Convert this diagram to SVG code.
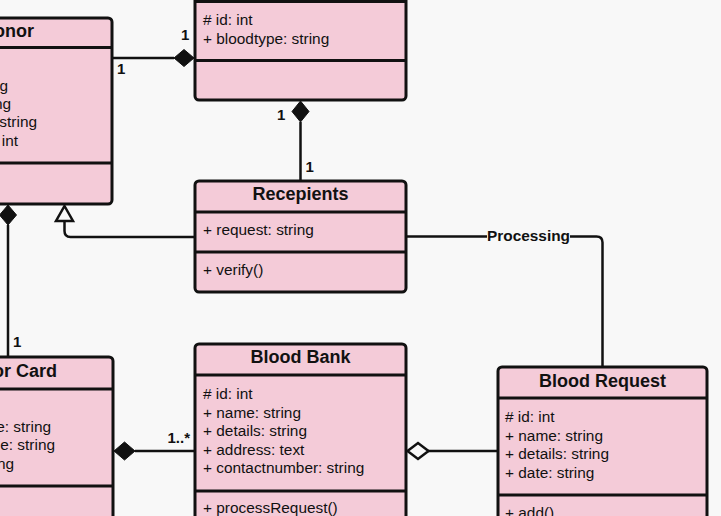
<svg xmlns="http://www.w3.org/2000/svg" width="721" height="516" viewBox="0 0 721 516">
<style>
.box{fill:#f4cbd8;stroke:#111;stroke-width:3}
.dv{stroke:#111;stroke-width:3}
.t{font-family:"Liberation Sans",Arial,sans-serif;font-size:18px;font-weight:bold;fill:#111;text-anchor:middle}
.te{font-family:"Liberation Sans",Arial,sans-serif;font-size:18px;font-weight:bold;fill:#111;text-anchor:end}
.a{font-family:"Liberation Sans",Arial,sans-serif;font-size:15.4px;fill:#111}
.ae{font-family:"Liberation Sans",Arial,sans-serif;font-size:15.4px;fill:#111;text-anchor:end}
.m{font-family:"Liberation Sans",Arial,sans-serif;font-size:15px;font-weight:bold;fill:#111}
.c{fill:none;stroke:#111;stroke-width:2.5}
.fd{fill:#111;stroke:#111;stroke-width:1}
.hd{fill:#f8f8f8;stroke:#111;stroke-width:2.5}
</style>
<rect x="0" y="0" width="721" height="516" fill="#f8f8f8"/>

<g id="donor">
<rect class="box" x="-99" y="18" width="211" height="186" rx="4"/>
<line class="dv" x1="-99" y1="47.5" x2="112" y2="47.5"/>
<line class="dv" x1="-99" y1="163" x2="112" y2="163"/>
<text class="te" x="34" y="37">onor</text>
<text class="ae" x="8" y="90.5">g</text>
<text class="ae" x="11" y="109">ng</text>
<text class="ae" x="37" y="127">string</text>
<text class="ae" x="18" y="145.5">int</text>
</g>

<g id="blood">
<rect class="box" x="195" y="-40" width="211" height="140" rx="4"/>
<line class="dv" x1="195" y1="1.5" x2="406" y2="1.5"/>
<line class="dv" x1="195" y1="60.5" x2="406" y2="60.5"/>
<text class="a" x="203" y="25"># id: int</text>
<text class="a" x="203" y="43.5">+ bloodtype: string</text>
</g>

<g id="recepients">
<rect class="box" x="195" y="181" width="211" height="111" rx="4"/>
<line class="dv" x1="195" y1="212" x2="406" y2="212"/>
<line class="dv" x1="195" y1="252" x2="406" y2="252"/>
<text class="t" x="300.5" y="200">Recepients</text>
<text class="a" x="203" y="235">+ request: string</text>
<text class="a" x="203" y="275">+ verify()</text>
</g>

<g id="donor-card">
<rect class="box" x="-98" y="357" width="211" height="200" rx="4"/>
<line class="dv" x1="-98" y1="389" x2="113" y2="389"/>
<line class="dv" x1="-98" y1="486" x2="113" y2="486"/>
<text class="te" x="57" y="377">or Card</text>
<text class="ae" x="51" y="431.5">e: string</text>
<text class="ae" x="55" y="450">e: string</text>
<text class="ae" x="14" y="468.5">ng</text>
</g>

<g id="blood-bank">
<rect class="box" x="195" y="344" width="211" height="200" rx="4"/>
<line class="dv" x1="195" y1="375" x2="406" y2="375"/>
<line class="dv" x1="195" y1="491" x2="406" y2="491"/>
<text class="t" x="300.5" y="363">Blood Bank</text>
<text class="a" x="203" y="399"># id: int</text>
<text class="a" x="203" y="417.5">+ name: string</text>
<text class="a" x="203" y="436">+ details: string</text>
<text class="a" x="203" y="454.5">+ address: text</text>
<text class="a" x="203" y="473">+ contactnumber: string</text>
<text class="a" x="203" y="513">+ processRequest()</text>
</g>

<g id="blood-request">
<rect class="box" x="498" y="367" width="209" height="200" rx="4"/>
<line class="dv" x1="498" y1="398" x2="707" y2="398"/>
<line class="dv" x1="498" y1="495" x2="707" y2="495"/>
<text class="t" x="602.5" y="387">Blood Request</text>
<text class="a" x="505" y="422"># id: int</text>
<text class="a" x="505" y="440.5">+ name: string</text>
<text class="a" x="505" y="459">+ details: string</text>
<text class="a" x="505" y="478">+ date: string</text>
<text class="a" x="505" y="518">+ add()</text>
</g>

<g id="connectors">
<line class="c" x1="112" y1="58" x2="174" y2="58"/>
<polygon class="fd" points="174,58 184,49.5 194,58 184,66.5"/>
<text class="m" x="117" y="73.5">1</text>
<text class="m" x="181" y="40">1</text>

<line class="c" x1="300.5" y1="122" x2="300.5" y2="181"/>
<polygon class="fd" points="300.5,101 309,111.5 300.5,122 292,111.5"/>
<text class="m" x="277" y="119.5">1</text>
<text class="m" x="305.5" y="172">1</text>

<path class="c" d="M195,237 H70.5 Q64.5,237 64.5,231 V221"/>
<polygon class="hd" points="64.5,206 73,221 56,221"/>

<line class="c" x1="8" y1="225" x2="8" y2="357"/>
<polygon class="fd" points="8,205 16.5,215 8,225 -0.5,215"/>
<text class="m" x="13" y="347">1</text>

<line class="c" x1="135" y1="451" x2="195" y2="451"/>
<polygon class="fd" points="114,451 124.5,442 135,451 124.5,460"/>
<text class="m" x="190" y="443" text-anchor="end">1..*</text>

<line class="c" x1="428" y1="451" x2="498" y2="451"/>
<polygon class="hd" points="407.5,451 418,443 428.5,451 418,459"/>

<path class="c" d="M406,236.5 H596.5 Q602.5,236.5 602.5,242.5 V367"/>
<rect x="487" y="228" width="83" height="16" fill="#f8f8f8"/>
<text class="m" x="528.5" y="240.5" text-anchor="middle" style="font-size:15.4px">Processing</text>
</g>
</svg>
